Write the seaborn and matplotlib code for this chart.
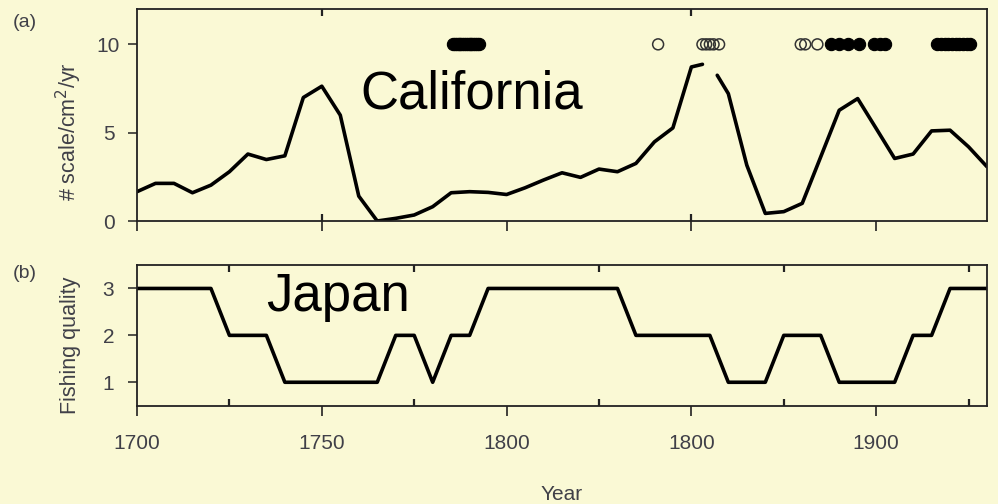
import matplotlib
matplotlib.use("Agg")
import matplotlib.pyplot as plt
import pandas as pd
import seaborn as sns
from matplotlib.ticker import FixedLocator

# (a) California scale deposition rate, read every ~5 years (record has a short break after 1853)
cal_years = [1700, 1705, 1710, 1715, 1720, 1725, 1730, 1735, 1740, 1745,
             1750, 1755, 1760, 1765, 1770, 1775, 1780, 1785, 1790, 1795,
             1800, 1805, 1810, 1815, 1820, 1825, 1830, 1835, 1840, 1845,
             1850, 1853, 1857, 1860, 1865, 1870, 1875, 1880, 1885, 1890,
             1895, 1900, 1905, 1910, 1915, 1920, 1925, 1930]
cal_rate = [1.66, 2.13, 2.13, 1.60, 2.03, 2.79, 3.79, 3.48, 3.69, 6.99,
            7.63, 5.99, 1.41, 0.00, 0.15, 0.34, 0.81, 1.60, 1.66, 1.62,
            1.50, 1.88, 2.32, 2.73, 2.47, 2.94, 2.79, 3.26, 4.48, 5.27,
            8.72, 8.87, 8.25, 7.21, 3.16, 0.43, 0.53, 1.00, 3.63, 6.27,
            6.93, 5.24, 3.54, 3.79, 5.10, 5.14, 4.20, 3.07]
cal_segment = [0] * 32 + [1] * 16

# Years marked along the top of panel (a)
open_years = [1841, 1853, 1854, 1855, 1856, 1857.5, 1879.6, 1880.8, 1884.1]
filled_years = [1785.5, 1786.0, 1786.5, 1787.0, 1787.5, 1788.0, 1788.5, 1789.0,
                1789.5, 1790.0, 1790.5, 1791.0, 1791.5, 1792.0, 1792.5,
                1887.7, 1890.0, 1892.5, 1895.3, 1899.4, 1901.0, 1902.3,
                1916.5, 1917.5, 1918.5, 1919.5, 1920.5, 1921.5, 1922.5,
                1923.5, 1924.5, 1925.5]
marker_level = 10

# (b) Japan fishing quality, every 5 years
jp_years = list(range(1700, 1931, 5))
jp_quality = [3, 3, 3, 3, 3, 2, 2, 2, 1, 1, 1, 1, 1, 1, 2, 2, 1, 2, 2, 3,
              3, 3, 3, 3, 3, 3, 3, 2, 2, 2, 2, 2, 1, 1, 1, 2, 2, 2, 1, 1,
              1, 1, 2, 2, 3, 3, 3]

year_ticks = [1700, 1750, 1800, 1850, 1900]
year_labels = ["1700", "1750", "1800", "1800", "1900"]
mid_ticks_a = [1750, 1850]
mid_ticks_b = [1725, 1775, 1825, 1875, 1925]
rate_ticks = [0, 5, 10]
quality_ticks = [1, 2, 3]

BG = "#FAF9D5"
INK = "#222222"
LABEL = "#404048"

sns.set_theme(style="ticks")
plt.rcParams["font.family"] = ["Liberation Sans", "DejaVu Sans"]
plt.rcParams.update({
    "figure.facecolor": BG,
    "axes.facecolor": BG,
    "axes.edgecolor": INK,
    "axes.linewidth": 1.3,
    "xtick.color": INK,
    "ytick.color": INK,
    "xtick.labelcolor": LABEL,
    "ytick.labelcolor": LABEL,
    "axes.labelcolor": LABEL,
})

fig = plt.figure(figsize=(9.98, 5.04), dpi=100)
ax_a = fig.add_axes([0.1373, 0.5615, 0.8517, 0.4206])
ax_b = fig.add_axes([0.1373, 0.1950, 0.8517, 0.2792])

# ---- panel (a) ----
cal = pd.DataFrame({"year": cal_years, "rate": cal_rate, "seg": cal_segment})
sns.lineplot(data=cal, x="year", y="rate", units="seg", estimator=None,
             color="black", lw=2.6, ax=ax_a, legend=False)
sns.scatterplot(x=filled_years, y=[marker_level] * len(filled_years), ax=ax_a,
                s=78, color="black", edgecolor="black", linewidth=0.8, zorder=3)
sns.scatterplot(x=open_years, y=[marker_level] * len(open_years), ax=ax_a,
                s=62, facecolor="none", edgecolor="#333333", linewidth=1.1, zorder=3)
ax_a.set_xlim(1700, 1930)
ax_a.set_ylim(0, 12)
ax_a.set_xlabel("")
ax_a.set_ylabel("# scale/cm$^2$/yr", fontsize=15.5)
ax_a.yaxis.set_label_coords(-0.062, 0.42)
ax_a.set_yticks(rate_ticks)
ax_a.xaxis.set_major_locator(FixedLocator(year_ticks))
ax_a.xaxis.set_minor_locator(FixedLocator(mid_ticks_a))
ax_a.xaxis.remove_overlapping_locs = False
ax_a.tick_params(axis="x", which="major", direction="out", length=7.5, width=1.2,
                 labelbottom=False)
ax_a.tick_params(axis="x", which="minor", direction="in", length=5, width=1.6,
                 top=True, bottom=True)
ax_a.tick_params(axis="y", direction="out", length=6.5, width=1.1,
                 labelsize=15, pad=14)
for t in ax_a.get_yticklabels():
    t.set_horizontalalignment("center")
ax_a.text(0.263, 0.53, "California", transform=ax_a.transAxes, fontsize=38,
          color="black", ha="left", va="baseline")

# ---- panel (b) ----
jp = pd.DataFrame({"year": jp_years, "quality": jp_quality})
sns.lineplot(data=jp, x="year", y="quality", color="black", lw=2.6, ax=ax_b)
ax_b.set_xlim(1700, 1930)
ax_b.set_ylim(0.5, 3.5)
ax_b.set_ylabel("Fishing quality", fontsize=15.5)
ax_b.yaxis.set_label_coords(-0.066, 0.43)
ax_b.set_yticks(quality_ticks)
ax_b.xaxis.set_major_locator(FixedLocator(year_ticks))
ax_b.set_xticklabels(year_labels)
ax_b.xaxis.set_minor_locator(FixedLocator(mid_ticks_b))
ax_b.tick_params(axis="x", which="major", direction="out", length=7.5, width=1.2,
                 labelsize=15, pad=13)
ax_b.tick_params(axis="x", which="minor", direction="in", length=5, width=1.6,
                 top=True, bottom=True)
ax_b.tick_params(axis="y", direction="out", length=6.5, width=1.1,
                 labelsize=15, pad=14)
for t in ax_b.get_yticklabels():
    t.set_horizontalalignment("center")
ax_b.set_xlabel("Year", fontsize=15)
ax_b.xaxis.set_label_coords(0.5, -0.56)
ax_b.text(0.152, 0.67, "Japan", transform=ax_b.transAxes, fontsize=38,
          color="black", ha="left", va="baseline")

fig.text(0.013, 0.955, "(a)", fontsize=14, color=LABEL, ha="left", va="center")
fig.text(0.013, 0.458, "(b)", fontsize=14, color=LABEL, ha="left", va="center")

fig.savefig("out.png", dpi=100, facecolor=BG)
